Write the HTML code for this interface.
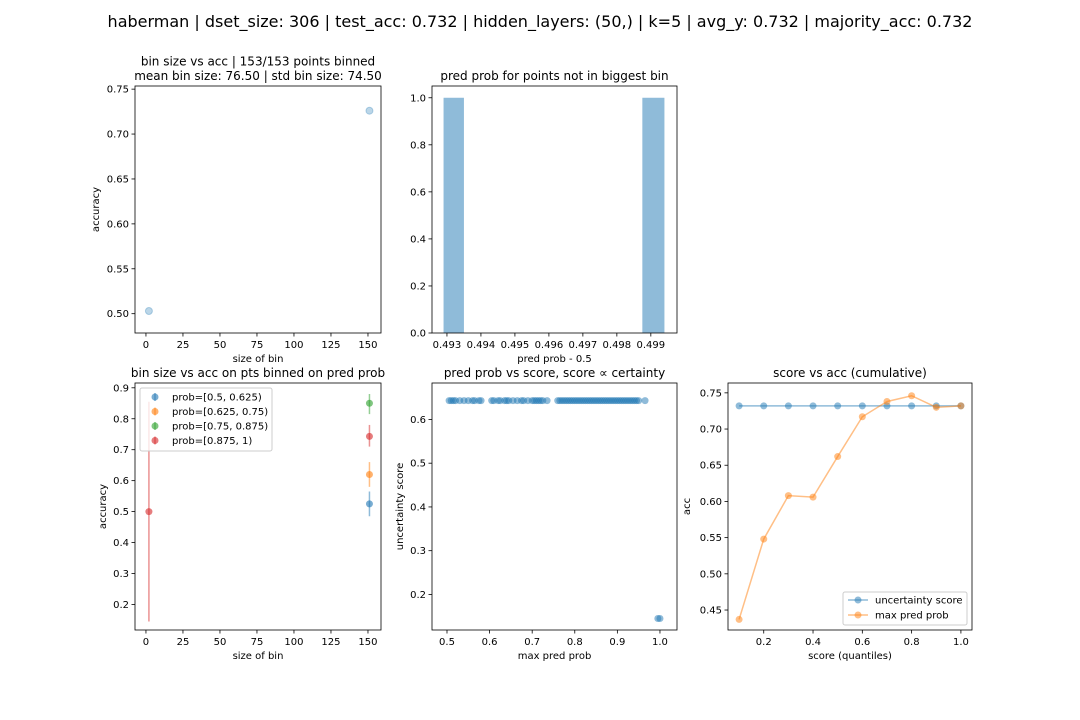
<!DOCTYPE html>
<html><head><meta charset="utf-8"><style>
body{margin:0;background:#fff}
svg{display:block;font-family:"DejaVu Sans","Liberation Sans",sans-serif}
</style></head><body>
<svg id="fig" width="1080" height="720" xmlns="http://www.w3.org/2000/svg">
<rect width="1080" height="720" fill="#fff"/>
<text x="540" y="27" font-size="16" text-anchor="middle" fill="#000">haberman | dset_size: 306 | test_acc: 0.732 | hidden_layers: (50,) | k=5 | avg_y: 0.732 | majority_acc: 0.732</text>
</svg>
<script>
// ---- data ----
const binSizes=[2,151];
const binAcc=[0.503,0.726];
const histBins=[[0.4929,0.4935],[0.49875,0.4994]];
const histCounts=[1,1];
const probLabels=["prob=[0.5, 0.625)","prob=[0.625, 0.75)","prob=[0.75, 0.875)","prob=[0.875, 1)"];
const probSizes=[[151],[151],[151],[2,151]];
const probAcc=[[0.525],[0.62],[0.85],[0.5,0.743]];
const probLo=[[0.485],[0.58],[0.815],[0.145,0.71]];
const probHi=[[0.565],[0.66],[0.88],[0.855,0.78]];
const maxProb=[0.505,0.51,0.515,0.52,0.53,0.54,0.55,0.56,0.565,0.575,0.58,0.605,0.61,0.62,0.625,0.635,0.64,0.645,0.655,0.665,0.675,0.68,0.69,0.70,0.705,0.71,0.715,0.72,0.725,0.735,0.76,0.765,0.77,0.775,0.78,0.785,0.79,0.795,0.80,0.805,0.81,0.815,0.82,0.825,0.83,0.835,0.84,0.845,0.85,0.855,0.86,0.865,0.87,0.875,0.88,0.885,0.89,0.895,0.90,0.905,0.91,0.915,0.92,0.925,0.93,0.935,0.94,0.945,0.95,0.965,0.995,1.0];
const uncScore=maxProb.map(p=>p>=0.99?0.145:0.643);
const quantiles=[0.1,0.2,0.3,0.4,0.5,0.6,0.7,0.8,0.9,1.0];
const accUnc=[0.732,0.732,0.732,0.732,0.732,0.732,0.732,0.732,0.732,0.732];
const accMax=[0.437,0.548,0.608,0.606,0.662,0.717,0.738,0.746,0.730,0.732];
const C=["#1f77b4","#ff7f0e","#2ca02c","#d62728"];
// ---- helpers ----
const svg=document.getElementById('fig');const NS="http://www.w3.org/2000/svg";
function el(t,a,p){const e=document.createElementNS(NS,t);for(const k in a)e.setAttribute(k,a[k]);(p||svg).appendChild(e);return e;}
function txt(x,y,s,a,p){const e=el('text',Object.assign({x:x,y:y,'font-size':10,fill:'#000'},a||{}),p);e.textContent=s;return e;}
function axes(name,L,T,R,B,x0,x1,y0,y1,xt,yt,xfmt,yfmt,title,xl,yl,yoff){
  const g=el('g',{});
  
  
  const sx=v=>L+(v-x0)/(x1-x0)*(R-L), sy=v=>B-(v-y0)/(y1-y0)*(B-T);
  xt.forEach(v=>{const x=sx(v);el('line',{x1:x,x2:x,y1:B,y2:B+3.5,stroke:'#000','stroke-width':0.8},g);const t=txt(x,B+15,xfmt(v),{'text-anchor':'middle'},g);});
  yt.forEach(v=>{const y=sy(v);el('line',{x1:L-3.5,x2:L,y1:y,y2:y,stroke:'#000','stroke-width':0.8},g);const t=txt(L-6,y+3.5,yfmt(v),{'text-anchor':'end'},g);});
  title.forEach((s,i)=>{const t=txt((L+R)/2,T-6-(title.length-1-i)*14.5,s,{'text-anchor':'middle','font-size':12},g);});
  const xlab=txt((L+R)/2,B+29,xl,{'text-anchor':'middle'},g);
  const yx=L-(yoff||0);const ylab=txt(yx,(T+B)/2,yl,{'text-anchor':'middle',transform:`rotate(-90 ${yx} ${(T+B)/2})`},g);
  const plot=el('g',{},g);
  const fr=el('rect',{x:L,y:T,width:R-L,height:B-T,fill:'none',stroke:'#000','stroke-width':0.8},g);
  
  return {sx,sy,g:plot,outer:g};
}
const f2=v=>v.toFixed(2), f1=v=>v.toFixed(1), f0=v=>String(v), f3=v=>v.toFixed(3);
// ---- top-left ----
let a=axes('bin-size-vs-acc-chart',135,86,381,333,-7.4,158.8,0.4785,0.7535,[0,25,50,75,100,125,150],[0.5,0.55,0.6,0.65,0.7,0.75],f0,f2,["bin size vs acc | 153/153 points binned","mean bin size: 76.50 | std bin size: 74.50"],"size of bin","accuracy",36);
binSizes.forEach((s,i)=>{const c=el('circle',{cx:a.sx(s),cy:a.sy(binAcc[i]),r:3.5,fill:C[0],'fill-opacity':0.3,stroke:C[0],'stroke-opacity':0.3},a.g);});
// ---- top-middle ----
a=axes('pred-prob-hist-chart',432,86,677,333,0.49256,0.49977,0,1.05,[0.493,0.494,0.495,0.496,0.497,0.498,0.499],[0,0.2,0.4,0.6,0.8,1.0],f3,f1,["pred prob for points not in biggest bin"],"pred prob - 0.5","",0);
histBins.forEach((b,i)=>{const r=el('rect',{x:a.sx(b[0]),y:a.sy(histCounts[i]),width:a.sx(b[1])-a.sx(b[0]),height:a.sy(0)-a.sy(histCounts[i]),fill:C[0],'fill-opacity':0.5},a.g);});
// ---- bottom-left ----
a=axes('binned-pred-prob-chart',135,383,381,630,-7.4,158.8,0.1175,0.9155,[0,25,50,75,100,125,150],[0.2,0.3,0.4,0.5,0.6,0.7,0.8,0.9],f0,f1,["bin size vs acc on pts binned on pred prob"],"size of bin","accuracy",29);
probLabels.forEach((lab,k)=>{probSizes[k].forEach((s,i)=>{
  const l=el('line',{x1:a.sx(s),x2:a.sx(s),y1:a.sy(probLo[k][i]),y2:a.sy(probHi[k][i]),stroke:C[k],'stroke-opacity':0.5,'stroke-width':1.5},a.g);
  const c=el('circle',{cx:a.sx(s),cy:a.sy(probAcc[k][i]),r:3.5,fill:C[k],'fill-opacity':0.6},a.g);});});
let lg=el('g',{},a.outer);
el('rect',{x:140,y:388,width:132,height:63,fill:'#fff','fill-opacity':0.8,stroke:'#ccc',rx:2},lg);
probLabels.forEach((lab,k)=>{const y=397+k*14.5;el('line',{x1:155,x2:155,y1:y-4,y2:y+4,stroke:C[k],'stroke-opacity':0.5,'stroke-width':1.5},lg);el('circle',{cx:155,cy:y,r:3.5,fill:C[k],'fill-opacity':0.6},lg);const t=txt(172,y+3.5,lab,{},lg);});
// ---- bottom-middle ----
a=axes('pred-prob-vs-score-chart',432,383,677,630,0.4648,1.04,0.1187,0.6833,[0.5,0.6,0.7,0.8,0.9,1.0],[0.2,0.3,0.4,0.5,0.6],f1,f1,["pred prob vs score, score \u221d certainty"],"max pred prob","uncertainty score",29);
maxProb.forEach((p,i)=>{const c=el('circle',{cx:a.sx(p),cy:a.sy(uncScore[i]),r:3.5,fill:C[0],'fill-opacity':0.5},a.g);});
// ---- bottom-right ----
a=axes('score-vs-acc-chart',728,383,972,630,0.055,1.045,0.4224,0.7636,[0.2,0.4,0.6,0.8,1.0],[0.45,0.5,0.55,0.6,0.65,0.7,0.75],f1,f2,["score vs acc (cumulative)"],"score (quantiles)","acc",38);
[[accUnc,0,'uncertainty-score-line'],[accMax,1,'max-pred-prob-line']].forEach(([arr,k,n])=>{
  const pl=el('polyline',{points:quantiles.map((q,i)=>a.sx(q)+','+a.sy(arr[i])).join(' '),fill:'none',stroke:C[k],'stroke-opacity':0.5,'stroke-width':1.5},a.g);
  quantiles.forEach((q,i)=>{const c=el('circle',{cx:a.sx(q),cy:a.sy(arr[i]),r:3.5,fill:C[k],'fill-opacity':0.5},a.g);});});
lg=el('g',{},a.outer);
el('rect',{x:843,y:592,width:124,height:33,fill:'#fff','fill-opacity':0.8,stroke:'#ccc',rx:2},lg);
[["uncertainty score",0],["max pred prob",1]].forEach(([s,k],i)=>{const y=600+i*15;el('line',{x1:848,x2:868,y1:y,y2:y,stroke:C[k],'stroke-opacity':0.5,'stroke-width':1.5},lg);el('circle',{cx:858,cy:y,r:3.5,fill:C[k],'fill-opacity':0.5},lg);const t=txt(875,y+3.5,s,{},lg);});
</script>
</body></html>
